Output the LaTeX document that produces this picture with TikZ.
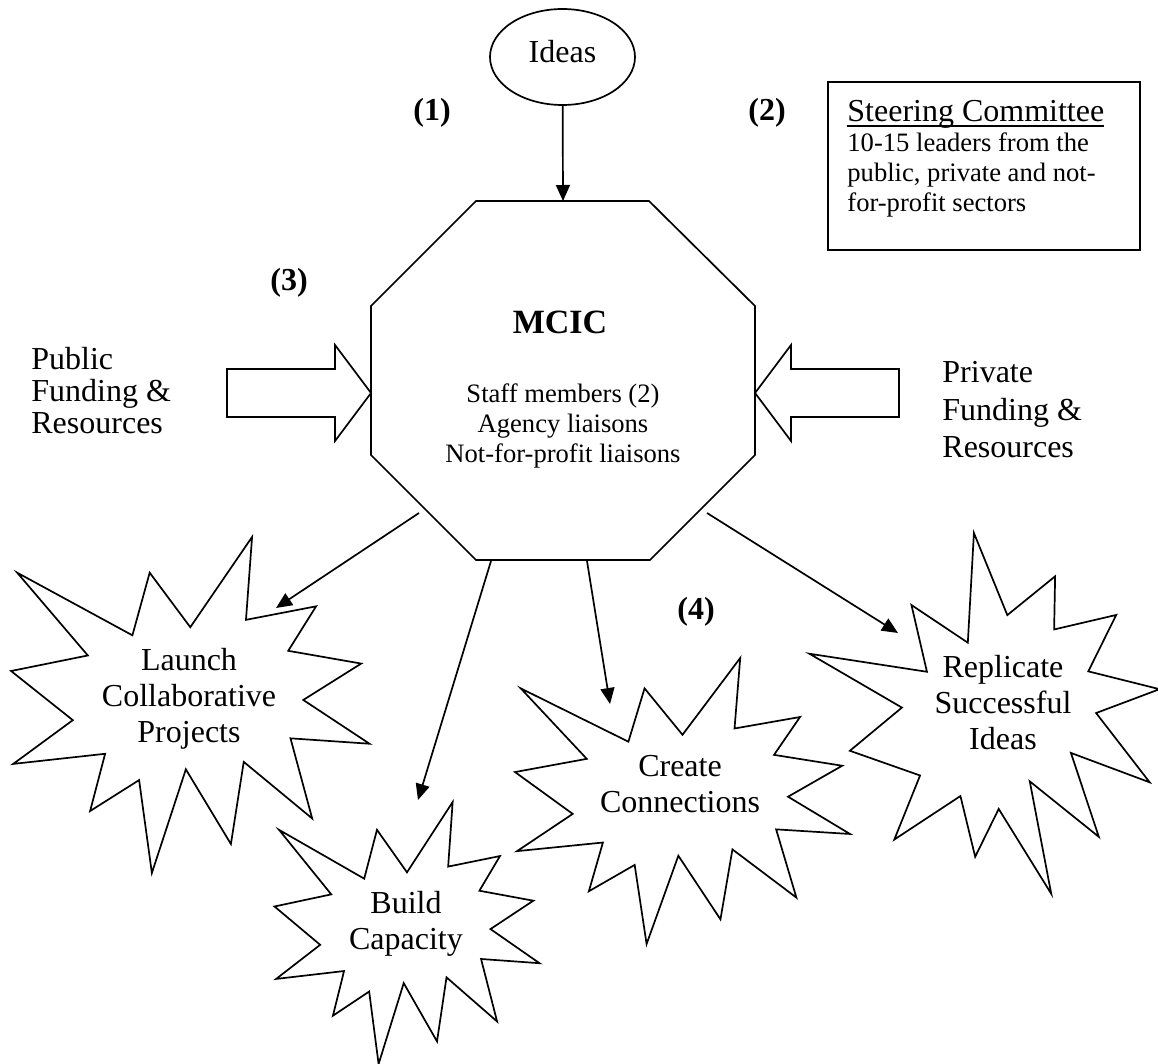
\documentclass[tikz,border=0pt]{standalone}
\usepackage{fontspec}
\setmainfont{Liberation Serif}
\usetikzlibrary{calc,arrows.meta,shapes.geometric}
\tikzstyle{contourline} = [draw=black, line width=0.85pt, line join=miter]
\tikzstyle{connector} = [line width=0.85pt, -{Triangle[length=8pt,width=7pt]}]
\tikzstyle{numtag} = [inner sep=0pt, font=\fontsize{16}{18}\selectfont\bfseries]
\tikzstyle{bursttext} = [inner sep=0pt, font=\fontsize{16}{18}\selectfont]
\tikzstyle{smalltext} = [inner sep=0pt, font=\fontsize{13.3}{15}\selectfont]

% explosion: centre x, centre y, width, height, rotation
\newcommand{\explosion}[5]{%
  \draw[contourline, shift={(#1,#2)}, rotate=#5, xscale=#3, yscale=#4]
    (0,-0.2315) -- (0.1723,-0.5) -- (0.1553,-0.2535) -- (0.3509,-0.2937)
    -- (0.2732,-0.1613) -- (0.4767,-0.1233) -- (0.3151,-0.0150) -- (0.5,0.1153)
    -- (0.2795,0.0992) -- (0.3400,0.3377) -- (0.1491,0.1693) -- (0.1133,0.4138)
    -- (-0.0124,0.1914) -- (-0.1072,0.5) -- (-0.1428,0.2235) -- (-0.2795,0.3156)
    -- (-0.2376,0.1452) -- (-0.4938,0.1753) -- (-0.3277,0.0451) -- (-0.5,-0.1012)
    -- (-0.2858,-0.1474) -- (-0.4829,-0.3938) -- (-0.1615,-0.2074) -- (-0.1133,-0.3938)
    -- cycle;}
\newcommand{\ulinetext}[1]{\setbox0\hbox{#1}\rlap{\rule[-2.5pt]{\wd0}{0.7pt}}\box0}

\begin{document}
\begin{tikzpicture}[x=0.5pt, y=-0.5pt]
        \useasboundingbox (0,0) rectangle (1158,1064);

        %% centre
        \draw[contourline] (476,201) -- (649,201) -- (755,306) -- (755,455)
            -- (650,560) -- (476,560) -- (371,455) -- (371,306) -- cycle;
        \node (mcic) [anchor=base, inner sep=0pt, font=\fontsize{17}{20}\selectfont\bfseries] at (560,334) {MCIC};
        \node (staff) [smalltext] at (563,427) {\begin{tabular}{@{}c@{}}
            Staff members (2) \\
            Agency liaisons \\
            Not-for-profit liaisons
        \end{tabular}};

        \node (ideas) [ellipse, draw, line width=0.85pt, minimum width=72.5pt, minimum height=48pt, inner sep=0pt, text depth=6pt, font=\fontsize{16}{18}\selectfont] at (562.5,57) {Ideas};

        \node (steering) [draw, line width=1.2pt, anchor=north west, minimum width=156pt, minimum height=84pt, inner sep=0pt] at (827,81) {};
        \node (steering text) [smalltext, anchor=north west] at ($(steering.north west)+(20,19)$) {\begin{tabular}{@{}l@{}}
            {\fontsize{16}{15}\selectfont\ulinetext{Steering Committee}} \\
            10-15 leaders from the \\
            public, private and not- \\
            for-profit sectors
        \end{tabular}};

        %% funding
        \node (public) [anchor=west, inner sep=0pt, font=\fontsize{16}{16}\selectfont] at (31,395) {\begin{tabular}{@{}l@{}}
            Public \\
            Funding \& \\
            Resources
        \end{tabular}};
        \node (private) [anchor=west, inner sep=0pt, font=\fontsize{16}{18.75}\selectfont] at (942,413) {\begin{tabular}{@{}l@{}}
            Private \\
            Funding \& \\
            Resources
        \end{tabular}};

        \coordinate (public tip) at (371,393);
        \draw[contourline] ($(public tip)+(-144,-24)$) -- ($(public tip)+(-36,-24)$) -- ($(public tip)+(-36,-48)$)
            -- (public tip) -- ($(public tip)+(-36,48)$) -- ($(public tip)+(-36,24)$) -- ($(public tip)+(-144,24)$) -- cycle;
        \coordinate (private tip) at (755,393);
        \draw[contourline] ($(private tip)+(144,-24)$) -- ($(private tip)+(36,-24)$) -- ($(private tip)+(36,-48)$)
            -- (private tip) -- ($(private tip)+(36,48)$) -- ($(private tip)+(36,24)$) -- ($(private tip)+(144,24)$) -- cycle;

        %% results
        \explosion{190.3}{705}{358.5}{336}{0}
        \node (launch) [bursttext] at (189,699) {\begin{tabular}{@{}c@{}}
            Launch \\
            Collaborative \\
            Projects
        \end{tabular}};

        \explosion{407}{933}{265}{262}{0}
        \node (build) [bursttext] at (406,924) {\begin{tabular}{@{}c@{}}
            Build \\
            Capacity
        \end{tabular}};

        \explosion{682.5}{801}{335}{286}{0}
        \node (create) [bursttext] at (680,787) {\begin{tabular}{@{}c@{}}
            Create \\
            Connections
        \end{tabular}};

        \explosion{1003.6}{717.7}{306}{359}{25.5}
        \node (replicate) [bursttext] at (1003,706) {\begin{tabular}{@{}c@{}}
            Replicate \\
            Successful \\
            Ideas
        \end{tabular}};

        %% relations
        \coordinate (mcic top) at (563,201);
        \draw[connector] (ideas) -- (mcic top);

        \coordinate (mcic sw) at (419,513);
        \coordinate (launch in) at (276,608);
        \draw[connector] (mcic sw) -- (launch in);

        \coordinate (mcic s1) at (491,561);
        \coordinate (build in) at (418,800);
        \draw[connector] (mcic s1) -- (build in);

        \coordinate (mcic s2) at (587,561);
        \coordinate (create in) at (610,704);
        \draw[connector] (mcic s2) -- (create in);

        \coordinate (mcic se) at (707,513);
        \coordinate (replicate in) at (898,633);
        \draw[connector] (mcic se) -- (replicate in);

        %% notes
        \node (n1) [numtag] at (432,112.5) {(1)};
        \node (n2) [numtag] at (767,112.5) {(2)};
        \node (n3) [numtag] at (289,283) {(3)};
        \node (n4) [numtag] at (696,612) {(4)};

    \end{tikzpicture}
\end{document}
